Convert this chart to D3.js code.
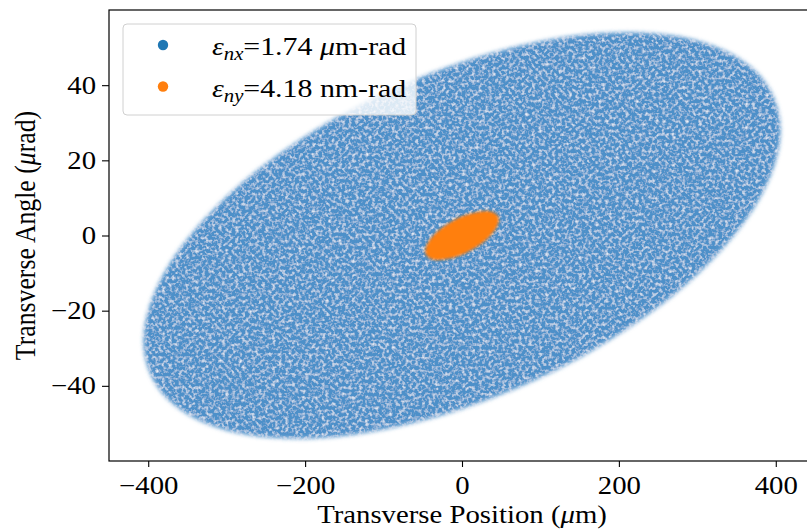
<!DOCTYPE html>
<meta charset="utf-8">
<script src="https://d3js.org/d3.v7.min.js"></script>
<style>
  body { margin: 0; background: #fff; }
  svg text { font-family: "Liberation Serif", "DejaVu Serif", serif; fill: #000; }
</style>
<body>
  <div id="container"></div>
</body>
<script>
    // boundary of each particle cloud (x in um, y in urad)
    var blueX = [406, 375, 287, 155, 0, -155, -287, -375, -406, -375, -287, -155, 0, 155, 287, 375];
    var blueY = [28.1, 8.3, -12.8, -31.9, -46.1, -53.4, -52.5, -43.6, -28.1, -8.3, 12.8, 31.9, 46.1, 53.4, 52.5, 43.6];
    var orangeX = [47, 43.4, 33.2, 18, 0, -18, -33.2, -43.4, -47, -43.4, -33.2, -18, 0, 18, 33.2, 43.4];
    var orangeY = [4.2, 1.9, -0.7, -3.1, -5.1, -6.2, -6.5, -5.7, -4.2, -1.9, 0.7, 3.1, 5.1, 6.2, 6.5, 5.7];

    var xTicks = [-400, -200, 0, 200, 400];
    var yTicks = [-40, -20, 0, 20, 40];
    var seriesNames = ["nx", "ny"];
    var seriesValues = ["=1.74 ", "=4.18 nm-rad"];
    var colors = ["#1f77b4", "#ff7f0e"];

    var W = 807, H = 531;
    var margin = {top: 10, left: 109};
    var width = 706, height = 451;
    var sx = 1.15; // text in the picture is a bit wider than tall

    var svg = d3.select("#container")
      .append("svg")
      .attr("width", W)
      .attr("height", H);

    var defs = svg.append("defs");

    // grainy look of the scatter cloud
    var f = defs.append("filter").attr("id", "grain")
      .attr("x", "-5%").attr("y", "-5%").attr("width", "110%").attr("height", "110%");
    f.append("feGaussianBlur").attr("in", "SourceGraphic").attr("stdDeviation", 2.2).attr("result", "soft");
    f.append("feTurbulence").attr("type", "fractalNoise").attr("baseFrequency", 0.3)
      .attr("numOctaves", 2).attr("seed", 7).attr("result", "noise");
    f.append("feColorMatrix").attr("in", "noise").attr("type", "matrix")
      .attr("values", "0 0 0 0 1  0 0 0 0 1  0 0 0 0 1  1.8 0 0 0 -0.82").attr("result", "spots");
    f.append("feGaussianBlur").attr("in", "spots").attr("stdDeviation", 0.7).attr("result", "spotsB");
    f.append("feComposite").attr("in", "spotsB").attr("in2", "soft").attr("operator", "in").attr("result", "spotsIn");
    var m = f.append("feMerge");
    m.append("feMergeNode").attr("in", "soft");
    m.append("feMergeNode").attr("in", "spotsIn");

    var fo = defs.append("filter").attr("id", "soft")
      .attr("x", "-20%").attr("y", "-20%").attr("width", "140%").attr("height", "140%");
    fo.append("feGaussianBlur").attr("in", "SourceGraphic").attr("stdDeviation", 1.8);

    var g = svg.append("g")
      .attr("transform", "translate(" + margin.left + "," + margin.top + ")");

    var x = d3.scaleLinear().domain([-450, 450]).range([0, width]);
    var y = d3.scaleLinear().domain([-60, 60]).range([height, 0]);

    var line = d3.line()
      .x(function(d) { return x(d[0]); })
      .y(function(d) { return y(d[1]); })
      .curve(d3.curveCardinalClosed.tension(0));

    var blue = d3.zip(blueX, blueY);
    var orange = d3.zip(orangeX, orangeY);

    g.append("path")
      .attr("d", line(blue))
      .attr("fill", "#4d90c9")
      .attr("filter", "url(#grain)");

    g.append("path")
      .attr("d", line(orange))
      .attr("fill", colors[1])
      .attr("filter", "url(#soft)");

    // frame
    g.append("rect")
      .attr("width", width).attr("height", height)
      .attr("fill", "none").attr("stroke", "#000").attr("stroke-width", 1.2);

    var fmt = function(d) { return d < 0 ? "\u2212" + (-d) : d; };
    var xAxis = g.append("g")
      .attr("transform", "translate(0," + height + ")")
      .call(d3.axisBottom(x).tickValues(xTicks).tickSize(6).tickPadding(9).tickFormat(fmt));
    var yAxis = g.append("g")
      .call(d3.axisLeft(y).tickValues(yTicks).tickSize(7).tickPadding(5).tickFormat(fmt));
    [xAxis, yAxis].forEach(function(a) {
      a.select(".domain").remove();
      a.selectAll("line").attr("stroke", "#000").attr("stroke-width", 1.1);
      a.selectAll("text").style("font-family", "Liberation Serif").style("font-size", "25px")
        .attr("transform", "scale(" + sx + ",1)");
    });
    yAxis.selectAll("text").attr("x", -13 / sx);

    // axis labels
    var xl = svg.append("text")
      .attr("transform", "translate(462,523) scale(" + sx + ",1)")
      .attr("text-anchor", "middle")
      .style("font-size", "25px");
    xl.append("tspan").text("Transverse Position (");
    xl.append("tspan").style("font-style", "italic").text("\u03bc");
    xl.append("tspan").text("m)");

    var yl = svg.append("text")
      .attr("transform", "translate(35," + (margin.top + height / 2) + ") rotate(-90) scale(1.03," + sx + ")")
      .attr("text-anchor", "middle")
      .style("font-size", "25px");
    yl.append("tspan").text("Transverse Angle (");
    yl.append("tspan").style("font-style", "italic").text("\u03bc");
    yl.append("tspan").text("rad)");

    // legend
    var lg = svg.append("g");
    lg.append("rect")
      .attr("x", 123).attr("y", 24).attr("width", 293).attr("height", 91)
      .attr("rx", 4)
      .attr("fill", "#fff").attr("fill-opacity", 0.8)
      .attr("stroke", "#d0d0d0").attr("stroke-width", 1);

    seriesNames.forEach(function(s, i) {
      var cy = 45 + i * 41.5;
      lg.append("circle").attr("cx", 163).attr("cy", cy).attr("r", 5.2).attr("fill", colors[i]);
      var t = lg.append("text")
        .attr("transform", "translate(212," + (cy + 10) + ") scale(" + sx + ",1)")
        .style("font-size", "26px");
      t.append("tspan").style("font-style", "italic").text("\u03b5");
      t.append("tspan").style("font-style", "italic").style("font-size", "18px").attr("dy", 5).text(s);
      t.append("tspan").attr("dy", -5).text(seriesValues[i]);
      if (i === 0) {
        t.append("tspan").style("font-style", "italic").text("\u03bc");
        t.append("tspan").text("m-rad");
      }
    });
</script>
